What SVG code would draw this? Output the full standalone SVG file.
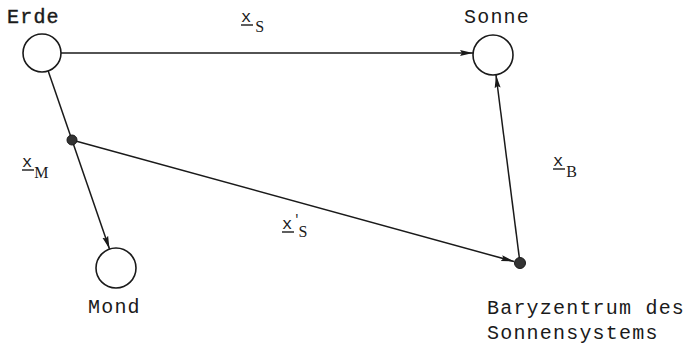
<svg xmlns="http://www.w3.org/2000/svg" width="689" height="345" viewBox="0 0 689 345">
  <style>
    .body { fill: #ffffff; stroke: #1a1a1a; stroke-width: 1.6; }
    .dot { fill: #333333; stroke: #1a1a1a; stroke-width: 1; }
    .lbl { font-family: "Liberation Mono", "DejaVu Sans Mono", monospace; font-size: 20px; letter-spacing: 1.2px; fill: #1a1a1a; }
    .vec { font-family: "Liberation Mono", "DejaVu Sans Mono", monospace; font-size: 17px; fill: #1a1a1a; }
    .sub { font-family: "Liberation Serif", "DejaVu Serif", serif; font-size: 16px; }
    .ul { stroke: #1a1a1a; stroke-width: 1.4; }
    .conn { fill: none; stroke: #1a1a1a; stroke-width: 1.5; marker-end: url(#arrow); }
  </style>
  <defs>
    <marker id="arrow" markerUnits="userSpaceOnUse" markerWidth="14" markerHeight="8" refX="13" refY="4" orient="auto">
      <path d="M0,1 L13,4 L0,7 L2,4 z" fill="#1a1a1a"/>
    </marker>
  </defs>
  <rect width="689" height="345" fill="#ffffff"/>

  <g id="connectors">
    <line class="conn" x1="61" y1="53" x2="473" y2="53"/>
    <line class="conn" x1="48.2" y1="71" x2="109.5" y2="249"/>
    <line class="conn" x1="72" y1="140" x2="514" y2="261.5"/>
    <line class="conn" x1="520" y1="263" x2="496" y2="75"/>
  </g>

  <g id="erde">
    <circle class="body" cx="42" cy="53" r="19"/>
    <text class="lbl" x="7" y="23" stroke="#1a1a1a" stroke-width="0.4">Erde</text>
  </g>
  <g id="sonne">
    <circle class="body" cx="493" cy="55" r="20"/>
    <text class="lbl" x="464" y="23">Sonne</text>
  </g>
  <g id="mond">
    <circle class="body" cx="116" cy="268" r="20"/>
    <text class="lbl" x="88" y="313">Mond</text>
  </g>
  <g id="punkt-m">
    <circle class="dot" cx="72" cy="140" r="5"/>
  </g>
  <g id="baryzentrum">
    <circle class="dot" cx="520" cy="263" r="5.5"/>
    <text class="lbl" x="487" y="314">Baryzentrum des</text>
    <text class="lbl" x="487" y="339">Sonnensystems</text>
  </g>

  <g id="label-xS">
    <line class="ul" x1="241" y1="25" x2="253" y2="25"/>
    <text class="vec" x="241" y="22">x<tspan class="sub" dx="4" dy="10">S</tspan></text>
  </g>
  <g id="label-xM">
    <line class="ul" x1="22" y1="170" x2="34" y2="170"/>
    <text class="vec" x="22" y="167">x<tspan class="sub" dx="2" dy="11">M</tspan></text>
  </g>
  <g id="label-xS-prime">
    <line class="ul" x1="282" y1="232" x2="294" y2="232"/>
    <text class="vec" x="282" y="229">x<tspan dx="1" dy="-6" font-size="12">'</tspan><tspan class="sub" dx="-2" dy="14">S</tspan></text>
  </g>
  <g id="label-xB">
    <line class="ul" x1="553" y1="169" x2="565" y2="169"/>
    <text class="vec" x="553" y="166">x<tspan class="sub" dx="3" dy="11">B</tspan></text>
  </g>
</svg>
